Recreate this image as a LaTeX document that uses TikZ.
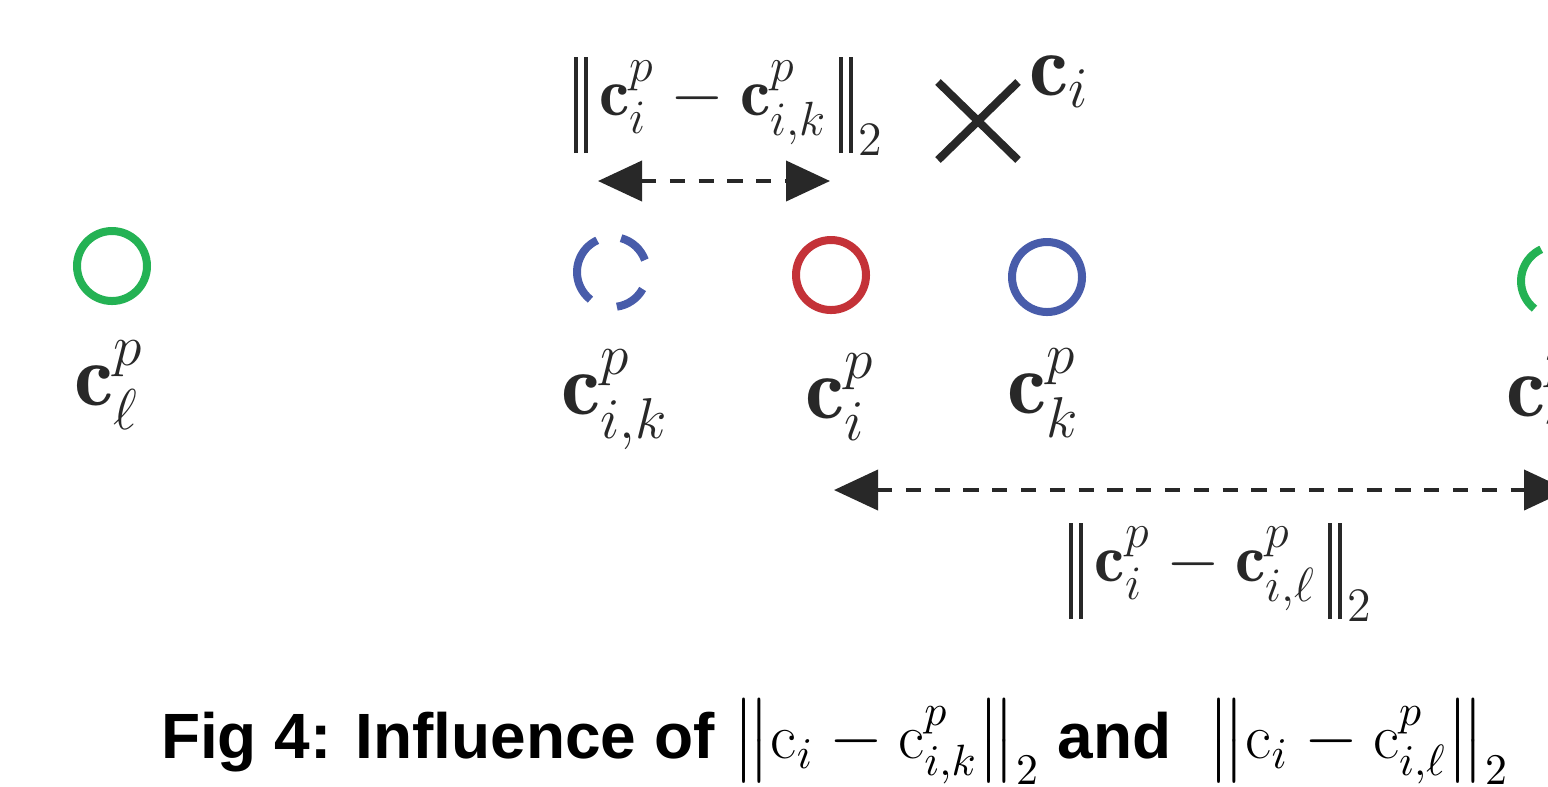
\documentclass[tikz,border=0pt]{standalone}
\usepackage{amsmath}
\usepackage{fontspec}
\newfontfamily\capfont{Liberation Sans}
\usetikzlibrary{arrows.meta}

\definecolor{ringgreen}{RGB}{36,178,84}
\definecolor{ringred}{RGB}{196,50,56}
\definecolor{ringblue}{RGB}{72,92,170}
\definecolor{inkgray}{RGB}{40,40,40}

\tikzset{
  ring/.style={circle, draw=#1, line width=2pt, minimum size=17.5pt, inner sep=0pt},
  ghost/.style={circle, minimum size=17.5pt, inner sep=0pt},
  ptlabel/.style={anchor=base, inner sep=0pt, text=inkgray, font=\fontsize{22}{26}\selectfont},
  normlabel/.style={anchor=base, inner sep=0pt, text=inkgray, font=\fontsize{17}{20}\selectfont},
  dimarrow/.style={inkgray, line width=1pt, dash pattern=on 3.8pt off 3.4pt,
    {Triangle[length=11pt,width=10pt]}-{Triangle[length=11pt,width=10pt]}},
}

% tall double bar of the norm labels
\newcommand{\dbar}{\rule[-9.5pt]{1pt}{24pt}\hspace{1.5pt}\rule[-9.5pt]{1pt}{24pt}}
\newcommand{\lnorm}{\mathopen{\dbar}\,}
\newcommand{\rnorm}{\,\mathclose{\dbar}}

% broken ring round a node: #1 = node, #2 = colour
\newcommand{\brokenring}[2]{%
  \foreach \a/\b in {115/232, 278/331, 20/75}
    \draw[#2, line width=2pt] (#1.center) ++(\a:8.75pt)
      arc[start angle=\a, end angle=\b, radius=8.75pt];
}

\begin{document}
\begin{tikzpicture}[x=0.25pt, y=-0.25pt]
  \useasboundingbox (0,0) rectangle (1548,786);
  \clip (0,0) rectangle (1548,786);

  % prototypes
  \node[ring=ringgreen] (cl) at (112,266) {};
  \node[ghost] (cik) at (612,272) {};
  \node[ring=ringred] (ci) at (831,275) {};
  \node[ring=ringblue] (ck) at (1047,277) {};
  \node[ghost] (cil) at (1556,281) {};
  \brokenring{cik}{ringblue}
  \brokenring{cil}{ringgreen}

  \node[ptlabel] (lcl) at (109,405) {$\mathbf{c}_\ell^p$};
  \node[ptlabel] (lcik) at (615,414) {$\mathbf{c}_{i,k}^p$};
  \node[ptlabel] (lci) at (840,418) {$\mathbf{c}_i^p$};
  \node[ptlabel] (lck) at (1044,413) {$\mathbf{c}_k^p$};
  \node[ptlabel] (lcil) at (1556,416) {$\mathbf{c}_{i,\ell}^p$};

  % the sample itself
  \coordinate (x) at (978,121);
  \draw[inkgray, line width=2pt] (x) ++(-40,-39) -- ++(80,78)
    (x) ++(-40,39) -- ++(80,-78);
  \node[ptlabel] (lx) at (1060,95) {$\mathbf{c}_i$};

  % distances
  \coordinate (ta) at (598,181);
  \coordinate (tb) at (830,181);
  \draw[dimarrow] (ta) -- (tb);
  \node[normlabel] (nk) at (729,115)
    {$\lnorm\mathbf{c}_i^p-\mathbf{c}_{i,k}^p\rnorm_{\mkern2mu 2}$};

  \coordinate (ba) at (834,490);
  \coordinate (bb) at (1568,490);
  \draw[dimarrow] (ba) -- (bb);
  \node[normlabel] (nl) at (1221,581)
    {$\lnorm\mathbf{c}_i^p-\mathbf{c}_{i,\ell}^p\rnorm_{\mkern2mu 2}$};

  \node[anchor=base, inner sep=0pt, font=\capfont\bfseries\fontsize{16}{19}\selectfont]
    (cap) at (835,758)
    {Fig 4: Influence of $\bigl\|\mathrm{c}_i-\mathrm{c}_{i,k}^p\bigr\|_2$ and\ \ $\bigl\|\mathrm{c}_i-\mathrm{c}_{i,\ell}^p\bigr\|_2$};
\end{tikzpicture}
\end{document}
